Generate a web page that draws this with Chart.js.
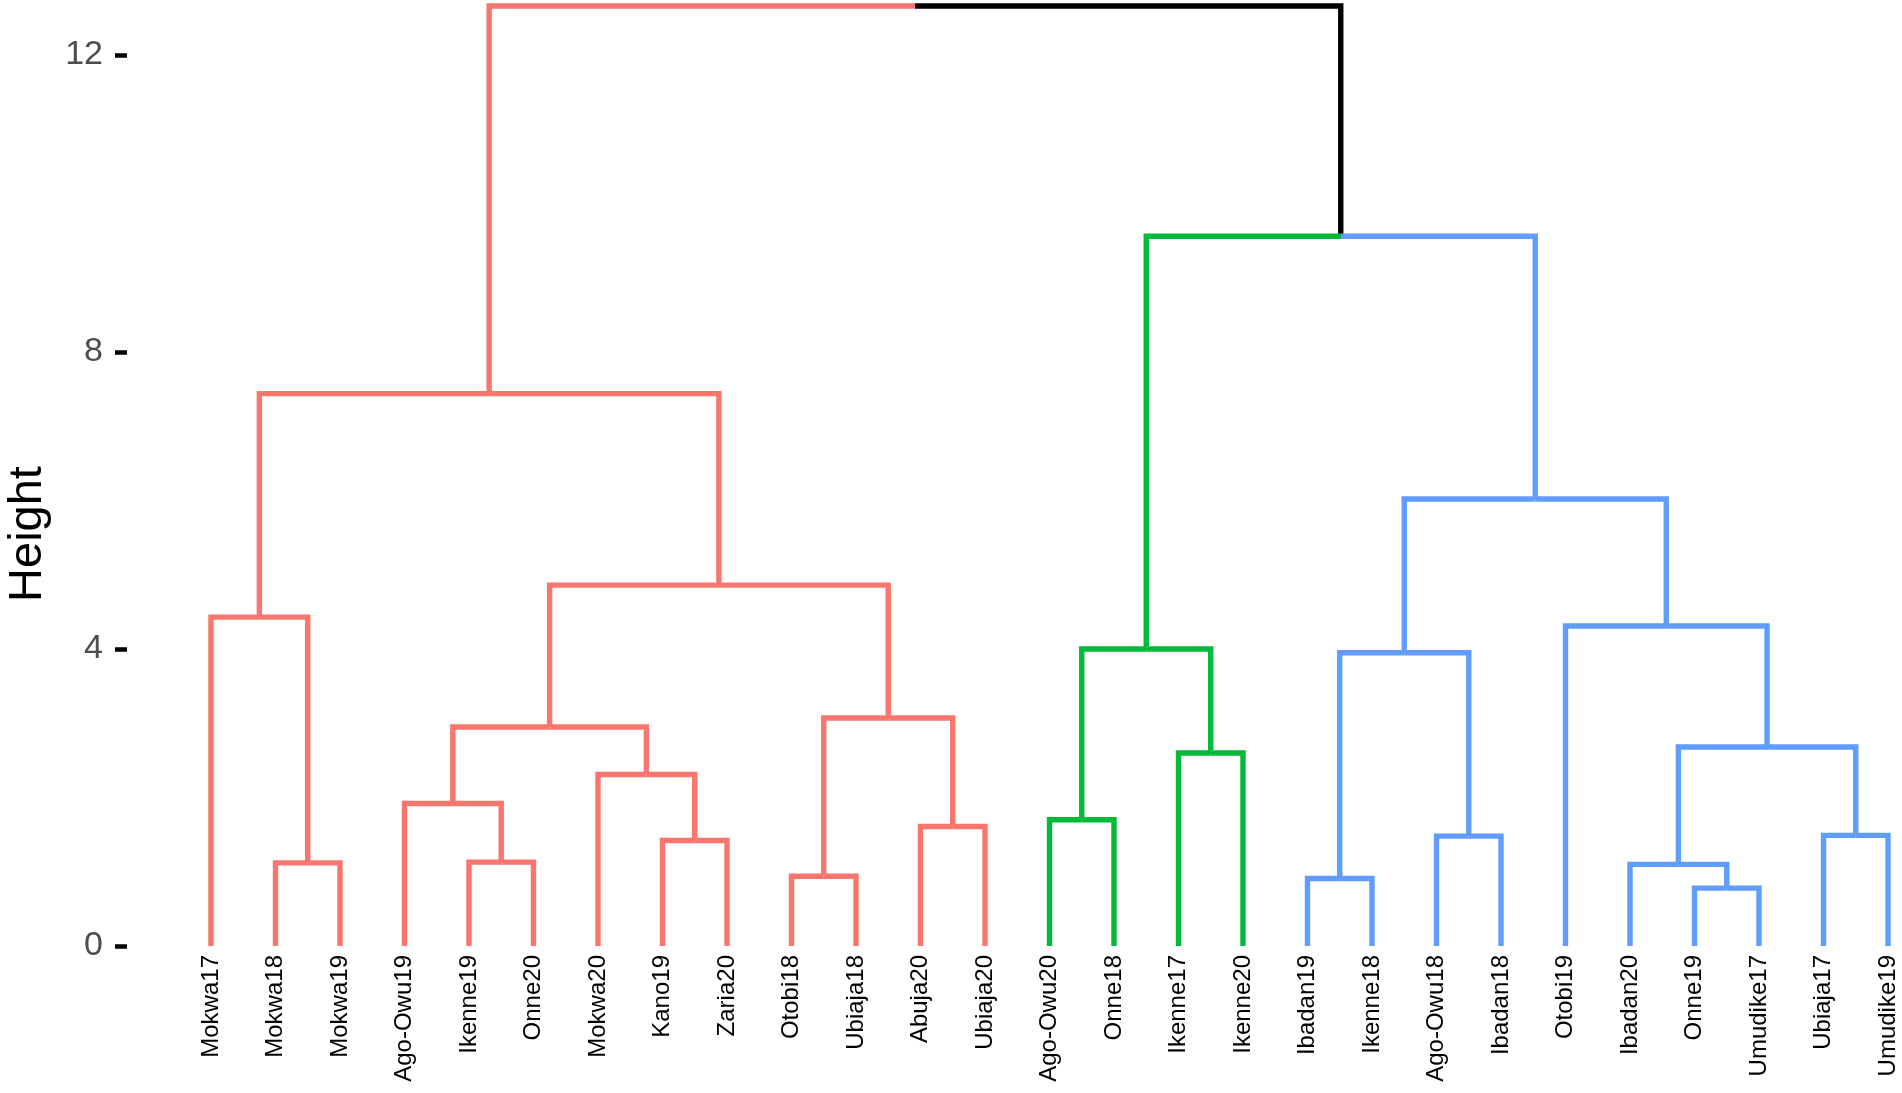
<!DOCTYPE html>
<html>
<head>
<meta charset="utf-8">
<script src="https://cdn.jsdelivr.net/npm/chart.js@4.4.1/dist/chart.umd.min.js"></script>
<style>
  html, body { margin: 0; padding: 0; background: #fff; }
</style>
</head>
<body>
<canvas id="dend" width="1902" height="1093"></canvas>
<script>
// Leaves in dendrogram order (left to right)
const LEAVES = [
  'Mokwa17', 'Mokwa18', 'Mokwa19', 'Ago-Owu19', 'Ikenne19', 'Onne20', 'Mokwa20',
  'Kano19', 'Zaria20', 'Otobi18', 'Ubiaja18', 'Abuja20', 'Ubiaja20', 'Ago-Owu20',
  'Onne18', 'Ikenne17', 'Ikenne20', 'Ibadan19', 'Ikenne18', 'Ago-Owu18', 'Ibadan18',
  'Otobi19', 'Ibadan20', 'Onne19', 'Umudike17', 'Ubiaja17', 'Umudike19'
];
// k = 3 cut: 1 red, 2 green, 3 blue
const LEAF_CLUSTER = [
  1, 1, 1, 1, 1, 1, 1, 1, 1, 1, 1, 1, 1,
  2, 2, 2, 2,
  3, 3, 3, 3, 3, 3, 3, 3, 3, 3
];
// hclust-style merges: negative = leaf (1-based), positive = earlier merge row (1-based)
const MERGE_LEFT   = [-24, -18, -10, -23, -2, -5, -8, -20, -26, -12, -14, -4, -7, -16, 4, 12, 3, 2, 11, -22, -1, 16, 18, 21, 19, 24];
const MERGE_RIGHT  = [-25, -19, -11, 1, -3, -6, -9, -21, -27, -13, -15, 6, 7, -17, 9, 13, 10, 8, 14, 15, 5, 17, 20, 22, 23, 25];
const MERGE_HEIGHT = [0.78, 0.91, 0.94, 1.10, 1.12, 1.13, 1.42, 1.48, 1.49, 1.61, 1.70, 1.92, 2.31, 2.60,
                      2.68, 2.95, 3.07, 3.95, 4.00, 4.31, 4.43, 4.86, 6.02, 7.44, 9.56, 12.66];
const CLUSTER_COLORS = ['#000000', '#F8766D', '#00BA38', '#619CFF'];
const Y_TICKS = [0, 4, 8, 12];

const FONT = 'Liberation Sans, Arial, Helvetica, sans-serif';

// Walk the merges: each one gives a left and a right half-link (child vertical + half the bar).
const nodes = [];
const links = [];
const nodeOf = (ref) => {
  if (ref < 0) return { x: -ref - 1, h: 0, cluster: LEAF_CLUSTER[-ref - 1] };
  return nodes[ref - 1];
};
MERGE_HEIGHT.forEach((h, m) => {
  const a = nodeOf(MERGE_LEFT[m]);
  const b = nodeOf(MERGE_RIGHT[m]);
  const mid = (a.x + b.x) / 2;
  for (const c of [a, b]) {
    links.push({
      points: [{ x: c.x, y: c.h }, { x: c.x, y: h }, { x: mid, y: h }],
      color: CLUSTER_COLORS[c.cluster],
    });
  }
  nodes.push({ x: mid, h, cluster: a.cluster === b.cluster ? a.cluster : 0 });
});

const datasets = links.map((l) => ({
  data: l.points,
  showLine: true,
  borderColor: l.color,
  borderWidth: 5.4,
  borderJoinStyle: 'miter',
  borderCapStyle: 'butt',
  pointRadius: 0,
  tension: 0,
  clip: false,
}));

new Chart(document.getElementById('dend').getContext('2d'), {
  type: 'scatter',
  data: { datasets },
  options: {
    responsive: false,
    animation: false,
    events: [],
    layout: { padding: { top: 0, right: 0, bottom: 25, left: 0 } },
    plugins: { legend: { display: false }, tooltip: { enabled: false } },
    scales: {
      x: {
        type: 'linear',
        position: { y: 0 },
        min: -1.302,
        max: 26.217,
        grid: { display: false, drawTicks: false },
        border: { display: false },
        afterBuildTicks: (s) => { s.ticks = LEAVES.map((_, i) => ({ value: i })); },
        afterFit: (s) => { s.paddingLeft = 0; s.paddingRight = 0; },
        ticks: {
          autoSkip: false,
          minRotation: 90,
          maxRotation: 90,
          padding: 9,
          color: '#000',
          font: { family: FONT, size: 24 },
          callback: (v) => LEAVES[v],
        },
      },
      y: {
        type: 'linear',
        min: -1.643,
        max: 12.741,
        afterBuildTicks: (s) => { s.ticks = Y_TICKS.map((v) => ({ value: v })); },
        afterFit: (s) => { s.width = 127; s.paddingTop = 0; s.paddingBottom = 0; },
        grid: {
          drawOnChartArea: false,
          drawTicks: true,
          tickLength: 12,
          tickWidth: 4.5,
          tickColor: '#000',
          color: '#000',
        },
        border: { display: false },
        ticks: { padding: 12, color: '#4D4D4D', font: { family: FONT, size: 34 } },
        title: {
          display: true,
          text: 'Height',
          color: '#000',
          padding: 0,
          font: { family: FONT, size: 47 },
        },
      },
    },
  },
});
</script>
</body>
</html>
